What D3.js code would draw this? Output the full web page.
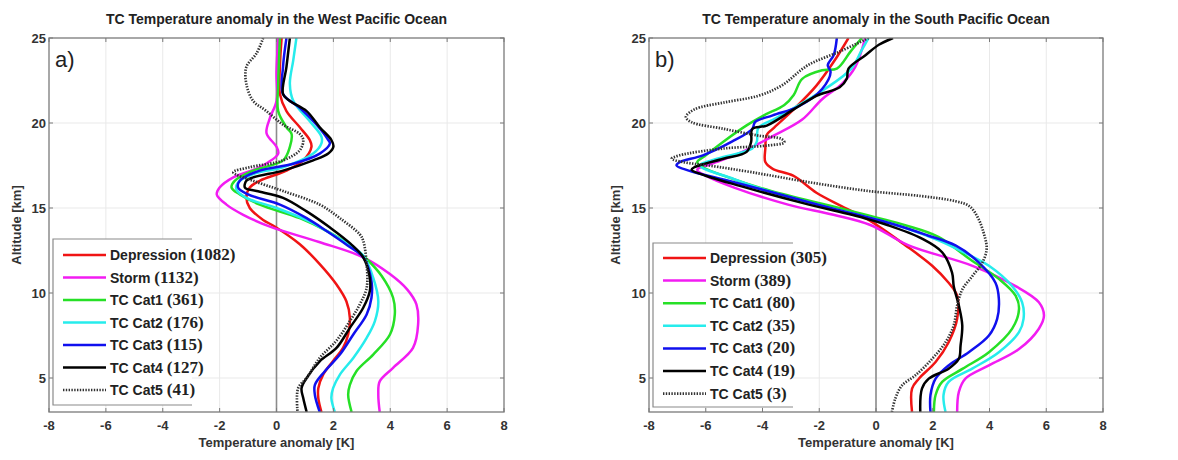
<!DOCTYPE html>
<html>
<head>
<meta charset="utf-8">
<script src="https://cdn.jsdelivr.net/npm/d3@7"></script>
<style>
  body { margin: 0; background: #fff; }
  svg { display: block; }
</style>
</head>
<body>
<div id="chart"></div>
<script>
// categories and counts
const categories = ["Depression", "Storm", "TC Cat1", "TC Cat2", "TC Cat3", "TC Cat4", "TC Cat5"];
const westCounts = [1082, 1132, 361, 176, 115, 127, 41];
const southCounts = [305, 389, 80, 35, 20, 19, 3];
const xTicks = [-8, -6, -4, -2, 0, 2, 4, 6, 8];
const yTicks = [5, 10, 15, 20, 25];

// West Pacific profiles: [anomaly K, altitude km]
const westDepression = [[0.18,25],[0.12,23.3],[0.12,21.7],[0.35,20.7],[0.82,19.75],[1.17,19.0],[1.23,18.6],[0.94,17.8],[0.35,17.2],[-0.59,16.6],[-0.94,16.2],[-1.06,15.6],[-0.94,15.0],[-0.47,14.3],[-0.05,13.9],[0.82,12.87],[1.52,11.7],[2.11,10.5],[2.46,9.5],[2.58,8.54],[2.52,7.56],[2.34,6.77],[1.99,6.0],[1.64,5.2],[1.47,4.4],[1.47,3.82],[1.58,3.0]];
const westStorm = [[0.06,25],[0.0,23],[0.0,21.3],[-0.23,20.3],[-0.35,19.4],[0.0,18.6],[0.06,18.2],[-0.59,17.4],[-1.52,16.8],[-2.0,16.2],[-2.1,15.8],[-1.76,15.2],[-1.17,14.6],[-0.23,13.9],[1.5,13.0],[3.05,12.1],[4.0,11.1],[4.6,10.2],[4.92,9.33],[4.98,8.15],[4.8,6.77],[4.1,5.6],[3.63,4.8],[3.58,4.02],[3.63,3.0]];
const westCat1 = [[0.12,25],[0.06,22.3],[0.06,20.7],[0.35,19.75],[0.53,19.35],[0.47,18.6],[0.23,17.8],[-0.82,17.2],[-1.47,16.6],[-1.58,16.2],[-1.29,15.8],[-0.59,15.2],[0.82,14.4],[1.76,13.65],[2.6,12.8],[3.17,12.0],[3.7,11.0],[4.1,9.72],[4.16,8.74],[3.99,7.56],[3.4,6.38],[2.81,5.4],[2.58,4.6],[2.52,4.02],[2.64,3.0]];
const westCat2 = [[0.7,25],[0.59,23.7],[0.47,22.3],[0.59,21.3],[1.17,20.1],[1.58,19.2],[1.58,18.8],[1.29,18.2],[0.23,17.4],[-0.82,17.0],[-1.35,16.5],[-1.41,16.1],[-1.06,15.6],[0.0,15.0],[1.17,14.2],[1.76,13.65],[2.5,12.9],[3.05,12.2],[3.4,10.9],[3.58,9.5],[3.46,8.35],[3.17,7.36],[2.7,6.18],[2.23,5.2],[1.99,4.4],[1.93,3.82],[2.05,3.0]];
const westCat3 = [[0.35,25],[0.23,23.3],[0.23,21.7],[0.82,20.9],[1.41,19.9],[1.82,19.0],[1.88,18.8],[1.52,18.2],[0.59,17.6],[-0.59,17.2],[-1.29,16.6],[-1.35,16.2],[-1.0,15.8],[0.12,15.2],[1.06,14.4],[1.76,13.65],[2.5,12.8],[3.05,12.1],[3.34,10.7],[3.34,9.72],[3.17,8.74],[2.7,7.56],[2.23,6.38],[1.7,5.4],[1.35,4.6],[1.35,4.0],[1.52,3.0]];
const westCat4 = [[0.47,25],[0.35,23.3],[0.23,21.7],[0.47,21.3],[1.06,20.7],[1.52,19.75],[1.93,19.0],[2.0,18.6],[1.82,18.2],[1.29,17.8],[0.23,17.2],[-0.82,16.8],[-1.06,16.6],[-1.11,16.2],[-0.7,16.0],[0.23,15.6],[1.06,14.8],[1.88,13.85],[2.6,12.9],[3.05,12.1],[3.28,10.9],[3.28,10.1],[3.05,9.13],[2.58,7.95],[2.11,6.77],[1.52,5.98],[1.06,5.0],[0.88,4.4],[0.94,3.82],[1.06,3.0]];
const westCat5 = [[-0.47,25],[-0.7,24.1],[-1.06,23.3],[-1.06,22.3],[-0.82,21.3],[-0.35,20.7],[0.23,19.9],[0.82,19.35],[0.94,19.0],[0.82,18.4],[0.23,17.8],[-0.94,17.4],[-1.52,17.1],[-0.82,16.6],[0.23,16.0],[1.52,15.2],[2.23,14.4],[2.93,13.45],[3.05,13.07],[3.17,11.7],[3.17,10.3],[2.93,9.33],[2.58,8.35],[2.11,7.2],[1.52,6.18],[1.06,5.0],[0.76,4.4],[0.74,3.0]];

// South Pacific profiles
const southDepression = [[-0.97,25],[-1.49,23.6],[-2.1,22.2],[-2.9,20.8],[-3.64,19.65],[-3.85,19.3],[-3.9,18.5],[-3.9,17.7],[-3.64,17.3],[-2.92,16.9],[-2.1,15.9],[-1.2,15.1],[-0.26,14.3],[1.04,12.8],[1.98,11.6],[2.56,10.6],[2.86,9.84],[2.86,8.48],[2.56,7.1],[2.1,5.94],[1.51,4.96],[1.27,4.38],[1.27,3.0]];
const southStorm = [[-0.38,25],[-0.73,23.3],[-1.2,22.3],[-1.9,21.4],[-2.6,20.2],[-3.67,19.2],[-4.85,18.2],[-5.8,17.6],[-6.3,17.25],[-6.0,16.9],[-5.0,16.2],[-3.1,15.2],[-1.5,14.6],[-0.2,14.0],[1.15,12.8],[3.4,11.6],[4.92,10.4],[5.74,9.45],[5.92,8.67],[5.74,7.9],[5.04,6.7],[3.98,5.74],[3.15,4.96],[2.92,4.18],[2.86,3.0]];
const southCat1 = [[-0.5,25],[-0.9,24.2],[-1.38,23.2],[-1.9,23.1],[-2.6,22.6],[-2.9,21.65],[-3.23,21.06],[-3.95,20.45],[-4.56,19.86],[-5.38,18.9],[-6.0,18.1],[-6.3,17.7],[-6.1,17.4],[-5.2,16.8],[-3.7,16.0],[-1.3,15.0],[1.0,14.0],[2.2,13.3],[3.3,12.0],[4.35,10.8],[4.92,9.84],[5.04,9.06],[4.8,7.9],[3.98,6.52],[3.06,5.55],[2.33,4.77],[2.1,4.0],[2.04,3.0]];
const southCat2 = [[-0.26,25],[-0.5,24.3],[-0.87,23.2],[-1.8,22.0],[-2.72,21.06],[-3.54,20.27],[-4.15,19.7],[-4.2,18.9],[-4.36,18.5],[-5.6,17.9],[-6.2,17.5],[-5.0,16.7],[-3.8,16.0],[-1.6,15.0],[0.7,14.0],[2.2,13.1],[3.2,12.3],[3.98,11.6],[4.8,10.4],[5.15,9.45],[5.2,8.48],[5.04,7.7],[4.33,6.52],[3.39,5.55],[2.56,4.77],[2.38,4.0],[2.45,3.0]];
const southCat3 = [[-1.38,25],[-1.49,24.0],[-1.7,23.4],[-1.6,23.0],[-1.9,22.0],[-2.7,21.0],[-3.64,20.45],[-4.26,20.06],[-4.36,19.65],[-5.08,18.9],[-6.1,18.1],[-6.92,17.7],[-7.03,17.5],[-6.6,17.2],[-5.2,16.6],[-3.6,15.9],[-1.6,15.0],[0.5,14.1],[1.8,13.4],[2.8,12.8],[3.62,11.8],[4.21,10.6],[4.33,9.65],[4.27,8.48],[3.98,7.5],[3.27,6.52],[2.56,5.74],[2.1,4.96],[1.92,4.0],[1.92,3.0]];
const southCat4 = [[0.6,25],[0.1,24.6],[-0.36,24.0],[-0.97,23.2],[-1.03,22.6],[-1.28,22.1],[-2.1,21.6],[-2.9,20.8],[-3.85,19.85],[-4.36,19.65],[-4.4,18.9],[-4.56,18.3],[-5.38,17.9],[-6.4,17.4],[-6.5,17.25],[-6.0,16.9],[-4.8,16.3],[-2.6,15.3],[-0.4,14.4],[0.4,14.0],[1.62,13.2],[2.33,12.4],[2.68,11.2],[2.74,10.4],[2.92,9.26],[3.04,8.1],[2.98,6.9],[2.92,6.13],[2.56,5.55],[1.86,4.96],[1.62,4.38],[1.56,3.0]];
const southCat5 = [[-0.26,25],[-1.28,24.2],[-2.4,23.4],[-3.33,22.2],[-4.15,21.6],[-5.38,21.2],[-6.4,20.8],[-6.7,20.35],[-6.5,20.05],[-5.38,19.66],[-4.15,19.26],[-3.33,19.06],[-3.23,18.86],[-3.85,18.67],[-5.38,18.5],[-6.92,18.1],[-7.2,17.9],[-6.8,17.7],[-5.9,17.5],[-4.36,17.1],[-2.3,16.5],[-0.26,16.0],[1.6,15.7],[2.8,15.4],[3.3,15.1],[3.6,14.4],[3.8,13.5],[3.9,12.6],[3.75,11.8],[3.4,11.0],[3.04,10.2],[2.86,9.26],[2.74,8.1],[2.45,7.1],[1.98,6.13],[1.39,5.16],[0.92,4.57],[0.68,3.79],[0.56,3.0]];

const westSeries = [westDepression, westStorm, westCat1, westCat2, westCat3, westCat4, westCat5];
const southSeries = [southDepression, southStorm, southCat1, southCat2, southCat3, southCat4, southCat5];

const colors = ["#f01414", "#f21cf2", "#26e026", "#26ecec", "#1010ee", "#000000", "#333333"];
const sansFont = "'Liberation Sans', Arial, sans-serif";
const serifFont = "'Liberation Serif', 'Times New Roman', serif";

const width = 1178;
const height = 460;

const svg = d3
  .select("#chart")
  .append("svg")
  .attr("width", width)
  .attr("height", height)
  .style("background", "#fff");

function drawPanel(opts) {
  const { left, right, top, bottom, title, tag, series, counts, legend, id } = opts;

  const x = d3.scaleLinear().domain([-8, 8]).range([left, right]);
  const y = d3.scaleLinear().domain([3, 25]).range([bottom, top]);

  const g = svg.append("g");

  // grid
  g.selectAll(".gx")
    .data(xTicks.slice(1, -1))
    .enter()
    .append("line")
    .attr("x1", (d) => x(d))
    .attr("x2", (d) => x(d))
    .attr("y1", top)
    .attr("y2", bottom)
    .attr("stroke", "#e9e9e9")
    .attr("stroke-width", 1);

  g.selectAll(".gy")
    .data(yTicks.slice(0, -1))
    .enter()
    .append("line")
    .attr("x1", left)
    .attr("x2", right)
    .attr("y1", (d) => y(d))
    .attr("y2", (d) => y(d))
    .attr("stroke", "#e9e9e9")
    .attr("stroke-width", 1);

  // zero line
  g.append("line")
    .attr("x1", x(0))
    .attr("x2", x(0))
    .attr("y1", top)
    .attr("y2", bottom)
    .attr("stroke", "#8c8c8c")
    .attr("stroke-width", 1.6);

  // curves
  g.append("clipPath")
    .attr("id", id)
    .append("rect")
    .attr("x", left)
    .attr("y", top)
    .attr("width", right - left)
    .attr("height", bottom - top);

  const line = d3
    .line()
    .x((d) => x(d[0]))
    .y((d) => y(d[1]))
    .curve(d3.curveCatmullRom.alpha(0.5));

  const curves = g.append("g").attr("clip-path", `url(#${id})`);
  series.forEach((s, i) => {
    curves
      .append("path")
      .datum(s)
      .attr("d", line)
      .attr("fill", "none")
      .attr("stroke", colors[i])
      .attr("stroke-width", i === 6 ? 2.7 : 2.5)
      .attr("stroke-dasharray", i === 6 ? "1.4 1.4" : null)
      .attr("stroke-linejoin", "round");
  });

  // frame
  g.append("rect")
    .attr("x", left)
    .attr("y", top)
    .attr("width", right - left)
    .attr("height", bottom - top)
    .attr("fill", "none")
    .attr("stroke", "#7a7a7a")
    .attr("stroke-width", 1.3);

  // inward ticks
  xTicks.forEach((t) => {
    g.append("line").attr("x1", x(t)).attr("x2", x(t)).attr("y1", bottom).attr("y2", bottom - 4).attr("stroke", "#7a7a7a");
    g.append("line").attr("x1", x(t)).attr("x2", x(t)).attr("y1", top).attr("y2", top + 4).attr("stroke", "#7a7a7a");
  });
  yTicks.forEach((t) => {
    g.append("line").attr("x1", left).attr("x2", left + 4).attr("y1", y(t)).attr("y2", y(t)).attr("stroke", "#7a7a7a");
    g.append("line").attr("x1", right).attr("x2", right - 4).attr("y1", y(t)).attr("y2", y(t)).attr("stroke", "#7a7a7a");
  });

  // tick labels
  g.selectAll(".xl")
    .data(xTicks)
    .enter()
    .append("text")
    .attr("x", (d) => x(d))
    .attr("y", bottom + 18)
    .attr("text-anchor", "middle")
    .style("font", `bold 13px ${sansFont}`)
    .attr("fill", "#333")
    .text((d) => d);

  g.selectAll(".yl")
    .data(yTicks)
    .enter()
    .append("text")
    .attr("x", left - 3)
    .attr("y", (d) => y(d) + 4.5)
    .attr("text-anchor", "end")
    .style("font", `bold 13px ${sansFont}`)
    .attr("fill", "#333")
    .text((d) => d);

  // title and axis labels
  g.append("text")
    .attr("x", (left + right) / 2)
    .attr("y", 24)
    .attr("text-anchor", "middle")
    .style("font", `bold 14px ${sansFont}`)
    .attr("fill", "#222")
    .text(title);

  g.append("text")
    .attr("x", (left + right) / 2)
    .attr("y", 447)
    .attr("text-anchor", "middle")
    .style("font", `bold 13px ${sansFont}`)
    .attr("fill", "#333")
    .text("Temperature anomaly [K]");

  g.append("text")
    .attr("transform", `translate(${opts.ylabelX},${(top + bottom) / 2}) rotate(-90)`)
    .attr("text-anchor", "middle")
    .style("font", `bold 13px ${sansFont}`)
    .attr("fill", "#333")
    .text("Altitude [km]");

  // panel tag
  g.append("text")
    .attr("x", left + 6)
    .attr("y", 67)
    .style("font", `22px ${sansFont}`)
    .attr("fill", "#222")
    .text(tag);

  // legend
  const lg = g.append("g");
  lg.append("rect")
    .attr("x", legend.x0)
    .attr("y", legend.y0)
    .attr("width", legend.x1 - legend.x0)
    .attr("height", legend.y1 - legend.y0)
    .attr("fill", "#fff");
  lg.append("path")
    .attr("d", `M${legend.x1},${legend.y0}H${legend.x0}V${legend.y1}H${legend.x1}`)
    .attr("fill", "none")
    .attr("stroke", "#8a8a8a")
    .attr("stroke-width", 1.2);

  categories.forEach((c, i) => {
    const ry = legend.row0 + i * legend.step;
    lg.append("line")
      .attr("x1", legend.x0 + 10)
      .attr("x2", legend.x0 + 53)
      .attr("y1", ry)
      .attr("y2", ry)
      .attr("stroke", colors[i])
      .attr("stroke-width", i === 6 ? 2.7 : 2.5)
      .attr("stroke-dasharray", i === 6 ? "1.4 1.4" : null);
    const t = lg
      .append("text")
      .attr("x", legend.x0 + 57)
      .attr("y", ry + 5)
      .attr("fill", "#222");
    t.append("tspan").style("font", `bold 14px ${sansFont}`).text(c + " ");
    t.append("tspan").style("font", `bold 17px ${serifFont}`).text(`(${counts[i]})`);
  });
}

drawPanel({
  id: "clipWest",
  left: 49,
  right: 504,
  top: 38,
  bottom: 412,
  ylabelX: 21,
  title: "TC Temperature anomaly in the West Pacific Ocean",
  tag: "a)",
  series: westSeries,
  counts: westCounts,
  legend: { x0: 53, x1: 192, y0: 239, y1: 405, row0: 255, step: 22.5 }
});

drawPanel({
  id: "clipSouth",
  left: 649,
  right: 1103,
  top: 38,
  bottom: 412,
  ylabelX: 620,
  title: "TC Temperature anomaly in the South Pacific Ocean",
  tag: "b)",
  series: southSeries,
  counts: southCounts,
  legend: { x0: 653, x1: 793, y0: 243, y1: 407, row0: 258, step: 22.6 }
});
</script>
</body>
</html>
